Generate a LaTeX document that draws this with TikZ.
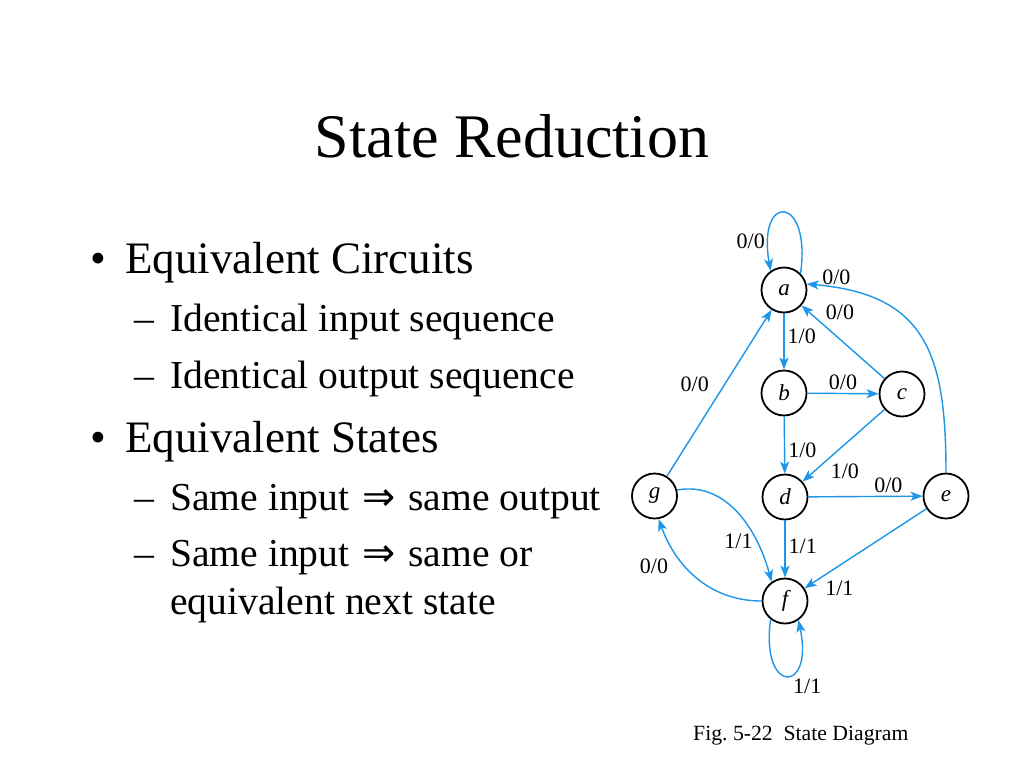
\documentclass[tikz,border=0pt]{standalone}
\usepackage{fontspec}
\setmainfont{Liberation Serif}
\newfontfamily\arrowfont{DejaVu Sans}
\usetikzlibrary{arrows.meta}

\definecolor{arcblue}{RGB}{28,150,232}
\newcommand{\impl}{\hspace{3pt}{\arrowfont ⇒}\hspace{3pt}}

\tikzset{
  title/.style={font=\fontsize{62}{70}\selectfont, anchor=base, inner sep=0pt},
  lvlone/.style={font=\fontsize{45}{50}\selectfont, anchor=base west, inner sep=0pt},
  lvltwo/.style={font=\fontsize{39.6}{44}\selectfont, anchor=base west, inner sep=0pt},
  state/.style={circle, draw=black, line width=1.8pt, minimum size=45pt, inner sep=0pt,
    font=\fontsize{23}{25}\selectfont\itshape},
  lbl/.style={font=\fontsize{22}{24}\selectfont, inner sep=3pt, text=black},
  trans/.style={draw=arcblue, line width=1.4pt,
    -{Stealth[length=12pt,width=9pt,inset=3pt]}},
}

\begin{document}
\begin{tikzpicture}[x=1pt, y=-1pt]
  \useasboundingbox[fill=white] (0,0) rectangle (1024,768);

  % slide text
  \node[title] (ttl) at (512,157) {State Reduction};
  \node[lvlone] (d1) at (90,273) {•};
  \node[lvlone] (i1) at (125,273) {Equivalent Circuits};
  \node[lvltwo] (e1) at (134,331) {–};
  \node[lvltwo] (i2) at (170,331) {Identical input sequence};
  \node[lvltwo] (e2) at (134,388) {–};
  \node[lvltwo] (i3) at (170,388) {Identical output sequence};
  \node[lvlone] (d2) at (90,452) {•};
  \node[lvlone] (i4) at (125,452) {Equivalent States};
  \node[lvltwo] (e3) at (134,510) {–};
  \node[lvltwo] (i5) at (170,510) {Same input \impl{} same output};
  \node[lvltwo] (e4) at (134,566) {–};
  \node[lvltwo] (i6) at (170,566) {Same input \impl{} same or};
  \node[lvltwo] (i7) at (170,614) {equivalent next state};

  % states
  \node[state] (a) at (784,290) {a};
  \node[state] (b) at (784,393) {b};
  \node[state] (c) at (902,394) {c};
  \node[state] (d) at (785,497) {d};
  \node[state] (e) at (946,496) {e};
  \node[state] (g) at (654.5,496) {g};
  \node[state] (f) at (785,601) {f};

  % transitions
  \draw[trans] (a.45) to[out=82,in=100,distance=80pt] node[lbl,left,pos=0.85] {0/0} (a.125);
  \draw[trans] (a) -- node[lbl,right,pos=0.4] {1/0} (b);
  \draw[trans] (b) -- node[lbl,above] {0/0} (c);
  \draw[trans] (b) -- node[lbl,right,pos=0.6] {1/0} (d);
  \draw[trans] (c) -- node[lbl,above right,pos=0.75] {0/0} (a);
  \draw[trans] (c) -- node[lbl,below right,pos=0.7] {1/0} (d);
  \draw[trans] (d) -- node[lbl,above,pos=0.7] {0/0} (e);
  \draw[trans] (d) -- node[lbl,right,pos=0.45] {1/1} (f);
  \draw[trans] (e.90) to[out=90,in=-5,looseness=1.3] node[lbl,above,pos=0.91] {0/0} (a.15);
  \draw[trans] (e) -- node[lbl,below right,pos=0.86] {1/1} (f);
  \draw[trans] (g) -- node[lbl,left=12pt,pos=0.55] {0/0} (a);
  \draw[trans] (g.15) to[out=10,in=105] node[lbl,left,pos=0.72] {1/1} (f.125);
  \draw[trans] (f.180) to[out=180,in=-70] node[lbl,left=14pt,pos=0.62] {0/0} (g.-80);
  \draw[trans] (f.232) to[out=262,in=282,distance=76pt] node[lbl,below right,pos=0.55] {1/1} (f.305);

  % caption
  \node[lbl, anchor=base west, inner sep=0pt, font=\fontsize{21.7}{24}\selectfont] (cap) at (693,740) {Fig.~5-22\enspace State Diagram};
\end{tikzpicture}
\end{document}
